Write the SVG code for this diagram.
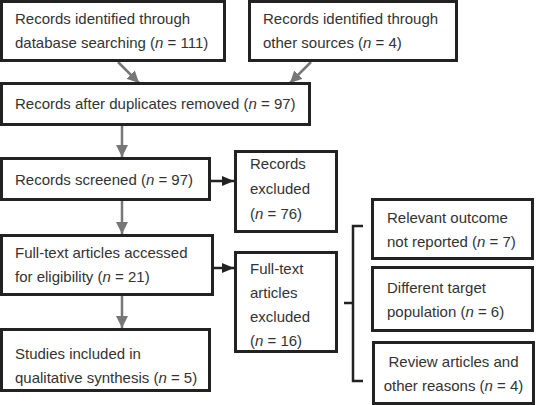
<svg xmlns="http://www.w3.org/2000/svg" width="537" height="405" viewBox="0 0 537 405">
<style>
.box{fill:#fff;stroke:#222;stroke-width:3}
text{font-family:"Liberation Sans",Arial,sans-serif;font-size:15px;fill:#333}
.i{font-style:italic}
.g{stroke:#777;stroke-width:2.5;fill:none}
.k{stroke:#222;stroke-width:2.5;fill:none}
</style>
<defs>
<marker id="ag" markerUnits="userSpaceOnUse" markerWidth="12" markerHeight="12" viewBox="0 0 12 12" refX="12" refY="6" orient="auto"><path d="M0,0 L12,6 L0,12 Z" fill="#777"/></marker>
<marker id="ak" markerUnits="userSpaceOnUse" markerWidth="12" markerHeight="12" viewBox="0 0 12 12" refX="12" refY="6" orient="auto"><path d="M0,1 L12,6 L0,11 Z" fill="#222"/></marker>
</defs>
<rect width="537" height="405" fill="#fff"/>
<g id="connectors">
<line class="g" x1="118" y1="62" x2="139" y2="83" marker-end="url(#ag)"/>
<line class="g" x1="311" y1="62" x2="290" y2="83" marker-end="url(#ag)"/>
<line class="g" x1="122" y1="126" x2="122" y2="157" marker-end="url(#ag)"/>
<line class="g" x1="122" y1="201" x2="122" y2="234" marker-end="url(#ag)"/>
<line class="g" x1="122" y1="296" x2="122" y2="328" marker-end="url(#ag)"/>
<line class="k" x1="211" y1="181" x2="234" y2="181" marker-end="url(#ak)"/>
<line class="k" x1="214" y1="268" x2="234" y2="268" marker-end="url(#ak)"/>
<path class="k" d="M363,226 H353 V381 H363 M344,303 H353" stroke-width="2"/>
</g>
<g id="n1"><rect class="box" x="1.5" y="1.5" width="223" height="59"/>
<text x="15" y="24">Records identified through</text>
<text x="15" y="48">database searching (<tspan class="i">n</tspan> = 111)</text></g>
<g id="n2"><rect class="box" x="249.5" y="1.5" width="207" height="59"/>
<text x="263" y="24">Records identified through</text>
<text x="263" y="48">other sources (<tspan class="i">n</tspan> = 4)</text></g>
<g id="n3"><rect class="box" x="1.5" y="83.5" width="308" height="41"/>
<text x="15" y="109">Records after duplicates removed (<tspan class="i">n</tspan> = 97)</text></g>
<g id="n4"><rect class="box" x="1.5" y="158.5" width="208" height="41"/>
<text x="15" y="185">Records screened (<tspan class="i">n</tspan> = 97)</text></g>
<g id="n5"><rect class="box" x="235.5" y="151.5" width="101" height="80"/>
<text x="250" y="169">Records</text>
<text x="250" y="194">excluded</text>
<text x="250" y="219">(<tspan class="i">n</tspan> = 76)</text></g>
<g id="n6"><rect class="box" x="1.5" y="235.5" width="211" height="59"/>
<text x="15" y="258">Full-text articles accessed</text>
<text x="15" y="282">for eligibility (<tspan class="i">n</tspan> = 21)</text></g>
<g id="n7"><rect class="box" x="235.5" y="252.5" width="101" height="99"/>
<text x="250" y="274">Full-text</text>
<text x="250" y="298">articles</text>
<text x="250" y="322">excluded</text>
<text x="250" y="346">(<tspan class="i">n</tspan> = 16)</text></g>
<g id="n8"><rect class="box" x="1.5" y="329.5" width="208" height="61"/>
<text x="15" y="359">Studies included in</text>
<text x="15" y="383">qualitative synthesis (<tspan class="i">n</tspan> = 5)</text></g>
<g id="n9"><rect class="box" x="372.5" y="199.5" width="160" height="59"/>
<text x="387" y="223">Relevant outcome</text>
<text x="387" y="247">not reported (<tspan class="i">n</tspan> = 7)</text></g>
<g id="n10"><rect class="box" x="372.5" y="267.5" width="160" height="63"/>
<text x="387" y="293">Different target</text>
<text x="387" y="317">population (<tspan class="i">n</tspan> = 6)</text></g>
<g id="n11"><rect class="box" x="373.5" y="342.5" width="160" height="61"/>
<text x="453.5" y="367" text-anchor="middle">Review articles and</text>
<text x="453.5" y="391" text-anchor="middle">other reasons (<tspan class="i">n</tspan> = 4)</text></g>
</svg>
